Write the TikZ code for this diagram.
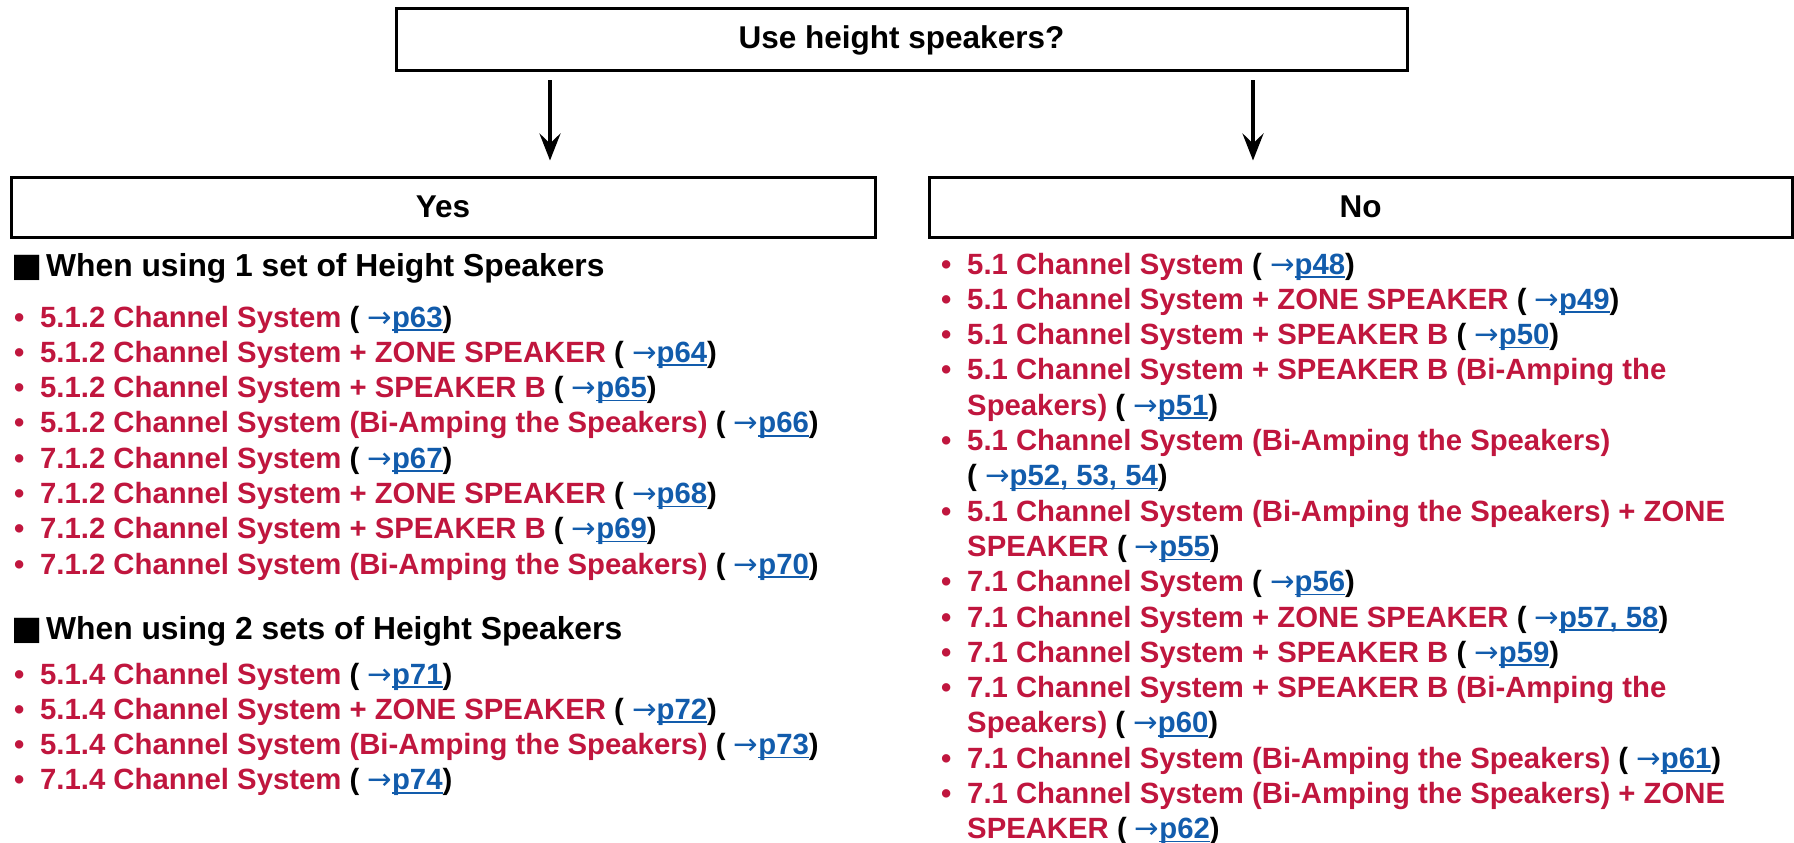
\documentclass[tikz,border=0pt]{standalone}
\usepackage{fontspec}
\setmainfont{Liberation Sans}
\newfontfamily\sqfont{DejaVu Sans}
\usetikzlibrary{arrows.meta}
\definecolor{itemred}{RGB}{192,22,62}
\definecolor{linkblue}{RGB}{18,92,172}
\newcommand\lnkp[1]{\textcolor{linkblue}{{\sqfont\mdseries →}\setbox0\hbox{#1}\rlap{\rule[-3.6pt]{\wd0}{1.5pt}}\box0}}
\newcommand\refp[1]{( \lnkp{#1})}
\newcommand\bul{\makebox[26pt][l]{\textcolor{itemred}{•}}}
\newcommand\rt[1]{\textcolor{itemred}{#1}}
\tikzset{
  box/.style={draw, line width=3pt, inner sep=0pt, font=\fontsize{31.5}{36}\selectfont\bfseries},
  item/.style={anchor=base west, inner sep=0pt, font=\fontsize{29.3}{35.3}\selectfont\bfseries},
  head/.style={anchor=base west, inner sep=0pt, font=\fontsize{31.8}{36}\selectfont\bfseries},
  sq/.style={anchor=base west, inner sep=0pt, font=\fontsize{33}{36}\selectfont\sqfont},
  arr/.style={line width=4.5pt, -{Stealth[length=27pt,width=21pt,inset=10pt]}},
}
\begin{document}
\begin{tikzpicture}[x=1pt,y=-1pt]
\useasboundingbox (0,0) rectangle (1794,843);
\node[box, minimum width=1011pt, minimum height=62pt] (q) at (901.5,40) {Use height speakers?};
\node[box, minimum width=864pt, minimum height=60pt] (yes) at (443,207) {Yes};
\node[box, minimum width=863pt, minimum height=60pt] (no) at (1360.5,207) {No};
\coordinate (ax1) at (550,0);
\coordinate (ax2) at (1253,0);
\draw[arr, shorten <=8pt, shorten >=15pt] (q.south -| ax1) -- (yes.north -| ax1);
\draw[arr, shorten <=8pt, shorten >=15pt] (q.south -| ax2) -- (no.north -| ax2);
% left column
\node[sq] (sq1) at (11,276) {■};
\node[head] (h1) at (46,276) {When using 1 set of Height Speakers};
\node[item] (l1) at (14,327) {\bul\rt{5.1.2 Channel System} \refp{p63}};
\node[item] (l2) at (14,362.3) {\bul\rt{5.1.2 Channel System + ZONE SPEAKER} \refp{p64}};
\node[item] (l3) at (14,397.6) {\bul\rt{5.1.2 Channel System + SPEAKER B} \refp{p65}};
\node[item] (l4) at (14,432.9) {\bul\rt{5.1.2 Channel System (Bi-Amping the Speakers)} \refp{p66}};
\node[item] (l5) at (14,468.2) {\bul\rt{7.1.2 Channel System} \refp{p67}};
\node[item] (l6) at (14,503.5) {\bul\rt{7.1.2 Channel System + ZONE SPEAKER} \refp{p68}};
\node[item] (l7) at (14,538.8) {\bul\rt{7.1.2 Channel System + SPEAKER B} \refp{p69}};
\node[item] (l8) at (14,574.1) {\bul\rt{7.1.2 Channel System (Bi-Amping the Speakers)} \refp{p70}};
\node[sq] (sq2) at (11,639) {■};
\node[head] (h2) at (46,639) {When using 2 sets of Height Speakers};
\node[item] (l9) at (14,684) {\bul\rt{5.1.4 Channel System} \refp{p71}};
\node[item] (l10) at (14,719.3) {\bul\rt{5.1.4 Channel System + ZONE SPEAKER} \refp{p72}};
\node[item] (l11) at (14,754.6) {\bul\rt{5.1.4 Channel System (Bi-Amping the Speakers)} \refp{p73}};
\node[item] (l12) at (14,789.9) {\bul\rt{7.1.4 Channel System} \refp{p74}};
% right column
\node[item] (r1) at (941,274) {\bul\rt{5.1 Channel System} \refp{p48}};
\node[item] (r2) at (941,309.3) {\bul\rt{5.1 Channel System + ZONE SPEAKER} \refp{p49}};
\node[item] (r3) at (941,344.6) {\bul\rt{5.1 Channel System + SPEAKER B} \refp{p50}};
\node[item] (r4) at (941,379.9) {\bul\rt{5.1 Channel System + SPEAKER B (Bi-Amping the}};
\node[item] (r4b) at (967,415.2) {\rt{Speakers)} \refp{p51}};
\node[item] (r5) at (941,450.5) {\bul\rt{5.1 Channel System (Bi-Amping the Speakers)}};
\node[item] (r5b) at (967,485.8) {\refp{p52, 53, 54}};
\node[item] (r6) at (941,521.1) {\bul\rt{5.1 Channel System (Bi-Amping the Speakers) + ZONE}};
\node[item] (r6b) at (967,556.4) {\rt{SPEAKER} \refp{p55}};
\node[item] (r7) at (941,591.7) {\bul\rt{7.1 Channel System} \refp{p56}};
\node[item] (r8) at (941,627) {\bul\rt{7.1 Channel System + ZONE SPEAKER} \refp{p57, 58}};
\node[item] (r9) at (941,662.3) {\bul\rt{7.1 Channel System + SPEAKER B} \refp{p59}};
\node[item] (r10) at (941,697.6) {\bul\rt{7.1 Channel System + SPEAKER B (Bi-Amping the}};
\node[item] (r10b) at (967,732.9) {\rt{Speakers)} \refp{p60}};
\node[item] (r11) at (941,768.2) {\bul\rt{7.1 Channel System (Bi-Amping the Speakers)} \refp{p61}};
\node[item] (r12) at (941,803.5) {\bul\rt{7.1 Channel System (Bi-Amping the Speakers) + ZONE}};
\node[item] (r12b) at (967,838.8) {\rt{SPEAKER} \refp{p62}};
\end{tikzpicture}
\end{document}
